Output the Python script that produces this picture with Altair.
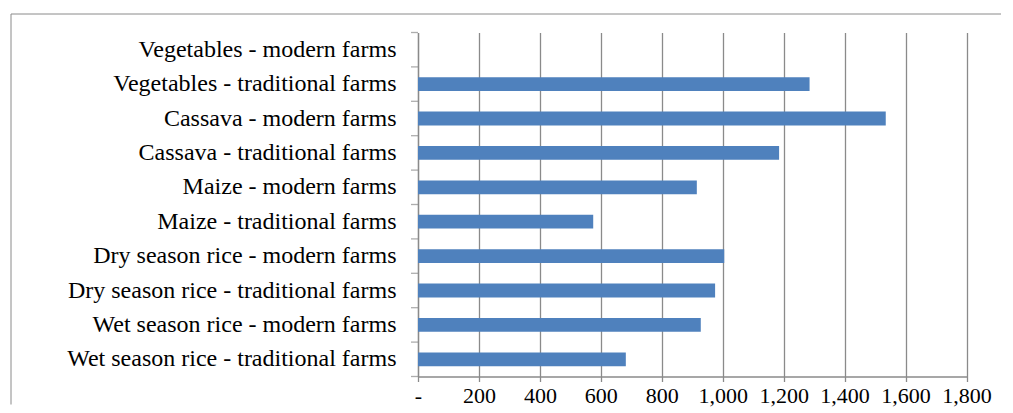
import altair as alt
import pandas as pd

categories = [
    "Vegetables - modern farms",
    "Vegetables - traditional farms",
    "Cassava - modern farms",
    "Cassava - traditional farms",
    "Maize - modern farms",
    "Maize - traditional farms",
    "Dry season rice - modern farms",
    "Dry season rice - traditional farms",
    "Wet season rice - modern farms",
    "Wet season rice - traditional farms",
]
values = [0, 1285, 1535, 1185, 915, 575, 1005, 975, 928, 682]
x_ticks = [0, 200, 400, 600, 800, 1000, 1200, 1400, 1600, 1800]

df = pd.DataFrame({"category": categories, "value": values})

GRID = "#8a8a8a"
FONT = "Liberation Serif"

y_enc = alt.Y(
    "category:N",
    sort=categories,
    scale=alt.Scale(paddingInner=0, paddingOuter=0),
    axis=alt.Axis(
        title=None,
        grid=False,
        ticks=False,
        domainColor=GRID,
        domainWidth=1.3,
        labelFont=FONT,
        labelFontSize=24,
        labelColor="black",
        labelPadding=22,
        labelLimit=500,
    ),
)

bars = alt.Chart(df).mark_bar(color="#4F81BD", height=alt.RelativeBandSize(0.4)).encode(
    x=alt.X(
        "value:Q",
        scale=alt.Scale(domain=[0, 1800], nice=False),
        axis=alt.Axis(
            values=x_ticks,
            labelExpr="datum.value == 0 ? '-' : format(datum.value, ',')",
            title=None,
            grid=True,
            gridColor=GRID,
            gridWidth=1.3,
            domainColor=GRID,
            domainWidth=1.3,
            tickColor=GRID,
            tickWidth=1.3,
            tickSize=5,
            labelFont=FONT,
            labelFontSize=22,
            labelColor="black",
            labelPadding=4,
            labelOverlap=False,
            labelFlush=False,
        ),
    ),
    y=y_enc,
)

# category-boundary tick marks on the y axis (Excel style)
yticks = alt.Chart(df).mark_tick(color=GRID, thickness=1.3, size=7, orient="horizontal").encode(
    y=alt.Y("category:N", sort=categories, bandPosition=0),
    x=alt.value(-3.5),
)
frame_df = pd.DataFrame({"k": [0]})
ytick_end = alt.Chart(frame_df).mark_tick(color=GRID, thickness=1.3, size=7, orient="horizontal").encode(
    y=alt.value(344), x=alt.value(-3.5)
)
top_line = alt.Chart(frame_df).mark_rule(color=GRID, strokeWidth=1).encode(
    x=alt.value(-407), x2=alt.value(583), y=alt.value(-18.5)
)
left_line = alt.Chart(frame_df).mark_rule(color=GRID, strokeWidth=1).encode(
    x=alt.value(-407), y=alt.value(-18.5), y2=alt.value(372)
)

chart = (
    alt.layer(top_line, left_line, bars, yticks, ytick_end)
    .properties(
        width=548.5,
        height=344,
        padding={"left": 2, "top": 5.5, "right": 0, "bottom": 0},
        background="white",
    )
    .configure_view(strokeWidth=0)
)

chart.save("out.html", embed_options={"renderer": "svg", "actions": False})
